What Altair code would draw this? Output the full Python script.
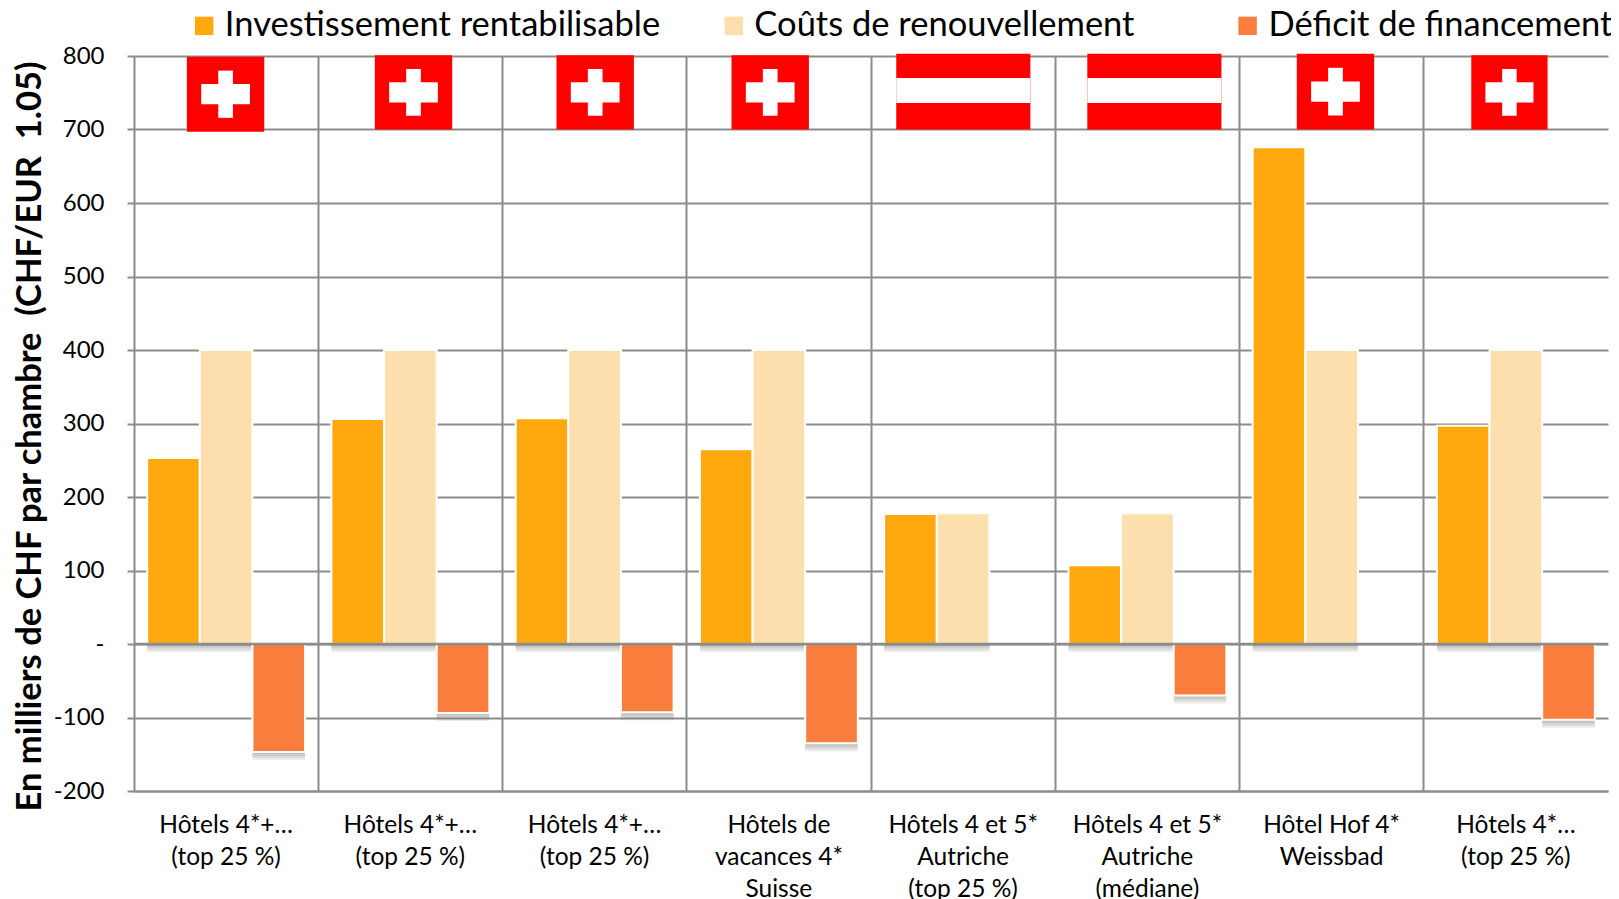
import json
import altair as alt
import pandas as pd

FONT = "Lato"
ids = list(range(8))
labels = [
    ["Hôtels 4*+…", "(top 25 %)"],
    ["Hôtels 4*+…", "(top 25 %)"],
    ["Hôtels 4*+…", "(top 25 %)"],
    ["Hôtels de", "vacances 4*", "Suisse"],
    ["Hôtels 4 et 5*", "Autriche", "(top 25 %)"],
    ["Hôtels 4 et 5*", "Autriche", "(médiane)"],
    ["Hôtel Hof 4*", "Weissbad"],
    ["Hôtels 4*…", "(top 25 %)"],
]
series = ["Investissement rentabilisable", "Coûts de renouvellement", "Déficit de financement"]
colors = ["#FFA90F", "#FDDFAD", "#F97D3C"]
invest = [253, 306, 307, 265, 177, 107, 676, 297]
renew = [400, 400, 400, 400, 178, 178, 400, 400]
deficit = [-147, -94, -93, -135, 0, -70, None, -103]

rows = []
for s, vals in zip(series, [invest, renew, deficit]):
    for i, v in zip(ids, vals):
        if v is not None:
            rows.append({"id": i, "s": s, "v": v})
bars = pd.DataFrame(rows)

# Flags, in units of category cells (x) and axis values (y)
flag_left = [0.287, 1.307, 2.293, 3.243, 4.137, 5.174, 6.311, 7.258]
flag_right = [0.707, 1.727, 2.713, 3.663, 4.865, 5.902, 6.731, 7.672]
flag_top = [799, 801, 801, 801, 803, 803, 803, 801]
flag_bottom = [697, 700, 700, 700, 700, 700, 700, 700]
flag_kind = ["CH", "CH", "CH", "CH", "AT", "AT", "CH", "CH"]

rects = []
for l, r, t, b, k in zip(flag_left, flag_right, flag_top, flag_bottom, flag_kind):
    w, h = r - l, t - b
    rects.append({"x": l, "x2": r, "y": b, "y2": t, "c": "#FF0000"})
    if k == "CH":
        cx, cy = (l + r) / 2, (t + b) / 2
        rects.append({"x": cx - w * 0.315, "x2": cx + w * 0.315, "y": cy - h * 0.135, "y2": cy + h * 0.135, "c": "#FFFFFF"})
        rects.append({"x": cx - w * 0.095, "x2": cx + w * 0.095, "y": cy - h * 0.315, "y2": cy + h * 0.315, "c": "#FFFFFF"})
    else:
        rects.append({"x": l, "x2": r, "y": b + h * 0.35, "y2": b + h * 0.68, "c": "#FFFFFF"})
flags = pd.DataFrame(rects)

legend = pd.DataFrame({
    "sym": [0.381, 3.255, 6.044],
    "txt": [0.493, 3.367, 6.157],
    "y": [841, 841, 841],
    "s": series,
})

color = alt.Color("s:N", scale=alt.Scale(domain=series, range=colors), legend=None)
label_expr = json.dumps(labels, ensure_ascii=False) + "[datum.value]"
y_enc = alt.Y("v:Q", scale=alt.Scale(domain=[-200, 800], nice=False),
              axis=alt.Axis(values=list(range(-200, 801, 100)),
                            labelExpr="datum.value === 0 ? '-' : replace(datum.label, '\u2212', '-')",
                            labelFont=FONT, labelFontSize=24, labelColor="#000000", labelPadding=23,
                            grid=True, gridColor="#8C8C8C", gridWidth=2,
                            domain=False, tickColor="#8C8C8C", tickWidth=2, tickSize=7,
                            title="En milliers de CHF par chambre\u00a0 (CHF/EUR\u00a0 1.05)",
                            titleFont=FONT, titleFontSize=34.5, titleFontWeight="bold", titleColor="#000000",
                            titleX=-104, titleY=380, titleAngle=270, titleAlign="center", titleBaseline="middle"))
x_enc = alt.X("id:O", scale=alt.Scale(domain=ids, paddingInner=0, paddingOuter=0),
              axis=alt.Axis(title=None, labelExpr=label_expr, labelAngle=0, labelAlign="center",
                            labelFont=FONT, labelFontSize=24.5, labelColor="#000000", labelPadding=22,
                            labelLineHeight=32, labelLimit=0,
                            grid=True, gridColor="#8C8C8C", gridWidth=2, bandPosition=0,
                            domain=True, domainColor="#8C8C8C", domainWidth=2, ticks=False))
x_off = alt.XOffset("s:N", sort=series, scale=alt.Scale(domain=series, paddingInner=0, paddingOuter=0.25))

base = alt.Chart(bars).encode(x=x_enc, xOffset=x_off, y=y_enc)
shadow = [base.mark_bar(color="#666666", opacity=0.12, yOffset=o, y2Offset=o).encode(y2=alt.datum(0))
          for o in (2, 4, 6, 8)]
main = base.mark_bar(stroke="#FFFFFF", strokeWidth=2).encode(color=color, y2=alt.datum(0))
bars_layer = alt.layer(*shadow, main)

zero = alt.Chart(pd.DataFrame({"v": [0]})).mark_rule(color="#8C8C8C", strokeWidth=2.5).encode(y=alt.Y("v:Q"))

xq = alt.Scale(domain=[0, 8], nice=False)
flag_layer = alt.Chart(flags).mark_rect().encode(
    x=alt.X("x:Q", scale=xq, axis=None), x2="x2:Q",
    y=alt.Y("y:Q"), y2="y2:Q",
    color=alt.Color("c:N", scale=None, legend=None),
)
leg_sym = alt.Chart(legend).mark_square(size=340, opacity=1).encode(
    x=alt.X("sym:Q", scale=xq, axis=None), y=alt.Y("y:Q"), color=color)
leg_txt = alt.Chart(legend).mark_text(align="left", baseline="middle", font=FONT, fontSize=34.5, color="#000000").encode(
    x=alt.X("txt:Q", scale=xq, axis=None), y=alt.Y("y:Q"), text="s:N")

chart = alt.layer(bars_layer, zero, flag_layer, leg_sym, leg_txt).resolve_scale(
    x="independent", color="independent", xOffset="independent"
).properties(
    width=1474, height=735,
    padding={"left": 126, "top": 48, "right": 3, "bottom": 108},
    autosize=alt.AutoSizeParams(type="none"),
).configure_view(stroke=None).configure_axis(labelFont=FONT)

chart.save("out.html", embed_options={"renderer": "svg", "actions": False})
